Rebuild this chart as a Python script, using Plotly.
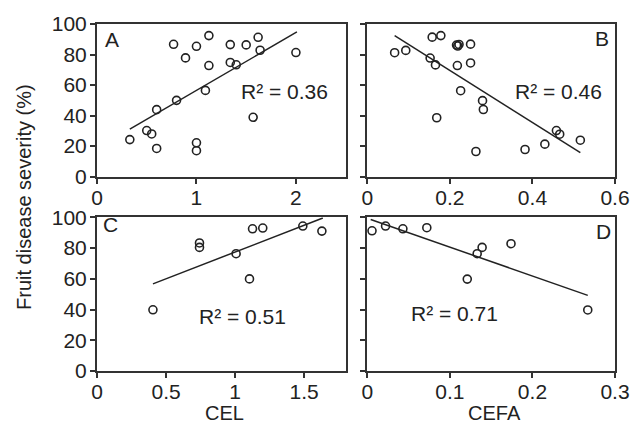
import plotly.graph_objects as go

# Panel A: CEL vs severity
a_x = [0.33, 0.50, 0.55, 0.60, 0.60, 0.80, 0.77, 0.89, 1.00, 1.00, 1.00, 1.125, 1.125, 1.09,
       1.34, 1.34, 1.40, 1.50, 1.62, 1.64, 1.57, 2.00]
a_y = [24.3, 30.2, 28.0, 43.9, 18.5, 50.0, 86.7, 77.8, 85.4, 22.2, 17.0, 92.4, 72.8, 56.5,
       86.5, 74.8, 73.3, 86.3, 91.3, 82.8, 38.9, 81.3]
a_fit_x = [0.33, 2.01]
a_fit_y = [31.1, 94.8]

# Panel B: CEFA vs severity
b_x = [0.066, 0.093, 0.157, 0.178, 0.152, 0.165, 0.168, 0.216, 0.219, 0.222, 0.218, 0.25, 0.25,
       0.226, 0.279, 0.281, 0.263, 0.382, 0.43, 0.458, 0.466, 0.516]
b_y = [81.2, 82.7, 91.4, 92.4, 77.7, 73.2, 38.6, 86.2, 85.6, 86.6, 72.8, 86.8, 74.5,
       56.3, 49.8, 44.0, 16.5, 17.8, 21.3, 30.2, 27.8, 23.9]
b_fit_x = [0.066, 0.516]
b_fit_y = [92.4, 15.7]

# Panel C: CEL vs severity
c_x = [0.405, 0.742, 0.742, 1.007, 1.104, 1.126, 1.20, 1.49, 1.628]
c_y = [39.8, 83.3, 80.4, 76.3, 59.9, 92.5, 93.0, 94.3, 91.0]
c_fit_x = [0.405, 1.635]
c_fit_y = [56.7, 99.5]

# Panel D: CEFA vs severity
d_x = [0.0056, 0.022, 0.043, 0.072, 0.139, 0.133, 0.121, 0.174, 0.267]
d_y = [91.2, 94.3, 92.5, 93.2, 80.4, 76.3, 59.8, 82.8, 39.7]
d_fit_x = [0.004, 0.267]
d_fit_y = [98.6, 49.2]

panel_labels = ["A", "B", "C", "D"]
r2_labels = ["R² = 0.36", "R² = 0.46", "R² = 0.51", "R² = 0.71"]
x_titles = ["CEL", "CEFA"]
y_title = "Fruit disease severity (%)"

FONT = "Liberation Sans, Arial, sans-serif"
INK = "#222222"

fig = go.Figure()

panels = [
    (a_x, a_y, a_fit_x, a_fit_y, "x", "y"),
    (b_x, b_y, b_fit_x, b_fit_y, "x2", "y2"),
    (c_x, c_y, c_fit_x, c_fit_y, "x3", "y3"),
    (d_x, d_y, d_fit_x, d_fit_y, "x4", "y4"),
]
for px, py, fx, fy, xa, ya in panels:
    fig.add_trace(go.Scatter(x=fx, y=fy, mode="lines", xaxis=xa, yaxis=ya,
                             line=dict(color=INK, width=1.5), showlegend=False,
                             hoverinfo="skip"))
    fig.add_trace(go.Scatter(x=px, y=py, mode="markers", xaxis=xa, yaxis=ya,
                             marker=dict(symbol="circle-open", size=8, color=INK,
                                         line=dict(width=1.6, color=INK)),
                             showlegend=False, cliponaxis=False))

axis_common = dict(showline=True, linecolor="#333333", linewidth=2, mirror=True,
                   ticks="outside", ticklen=5, tickwidth=1.5, tickcolor="#333333",
                   showgrid=False, zeroline=False,
                   tickfont=dict(family=FONT, size=21, color=INK))
x_common = dict(axis_common, ticklabelstandoff=-4)
y_common = dict(axis_common, ticklabelstandoff=-1)

left_dom = [0.0, 0.480]
right_dom = [0.522, 1.0]
top_dom = [0.56, 1.0]
bot_dom = [0.0, 0.443]
yticks = [0, 20, 40, 60, 80, 100]

fig.update_layout(
    width=642, height=426,
    margin=dict(l=97, r=16, t=20, b=55),
    paper_bgcolor="white", plot_bgcolor="white",
    xaxis=dict(domain=left_dom, anchor="y", range=[0, 2.5], tickvals=[0, 1, 2], **x_common),
    yaxis=dict(domain=top_dom, anchor="x", range=[0, 100], tickvals=yticks, **y_common),
    xaxis2=dict(domain=right_dom, anchor="y2", range=[0, 0.6], tickvals=[0, 0.2, 0.4, 0.6], **x_common),
    yaxis2=dict(domain=top_dom, anchor="x2", range=[0, 100], tickvals=yticks,
                showticklabels=False, **y_common),
    xaxis3=dict(domain=left_dom, anchor="y3", range=[0, 1.8], tickvals=[0, 0.5, 1, 1.5], **x_common),
    yaxis3=dict(domain=bot_dom, anchor="x3", range=[0, 100], tickvals=yticks, **y_common),
    xaxis4=dict(domain=right_dom, anchor="y4", range=[0, 0.3], tickvals=[0, 0.1, 0.2, 0.3], **x_common),
    yaxis4=dict(domain=bot_dom, anchor="x4", range=[0, 100], tickvals=yticks,
                showticklabels=False, **y_common),
)

txt = dict(family=FONT, size=21, color=INK)
label_pos = [(0.15, 90, "x", "y"), (0.568, 90.7, "x2", "y2"), (0.097, 95, "x3", "y3"), (0.286, 90.8, "x4", "y4")]
r2_pos = [(1.89, 55.5, "x", "y"), (0.463, 55.5, "x2", "y2"), (1.05, 35.5, "x3", "y3"), (0.106, 37.5, "x4", "y4")]
for lab, (lx, ly, xr, yr) in zip(panel_labels, label_pos):
    fig.add_annotation(x=lx, y=ly, xref=xr, yref=yr, text=lab, showarrow=False, font=txt,
                       xanchor="center", yanchor="middle")
for lab, (lx, ly, xr, yr) in zip(r2_labels, r2_pos):
    fig.add_annotation(x=lx, y=ly, xref=xr, yref=yr, text=lab, showarrow=False, font=txt,
                       xanchor="center", yanchor="middle")

# plot area spans 351 px vertically; bottom of figure at -55/351
ybot = -55 / 351
title_font = dict(family=FONT, size=20, color=INK)
fig.add_annotation(x=0.246, y=ybot, xref="paper", yref="paper", text=x_titles[0],
                   showarrow=False, font=title_font, xanchor="center", yanchor="bottom", borderpad=0)
fig.add_annotation(x=0.767, y=ybot, xref="paper", yref="paper", text=x_titles[1],
                   showarrow=False, font=title_font, xanchor="center", yanchor="bottom", borderpad=0)
fig.add_annotation(x=-0.14, y=0.503, xref="paper", yref="paper", text=y_title,
                   textangle=-90, showarrow=False, font=title_font,
                   xanchor="center", yanchor="middle")

fig.write_html("out.html")
